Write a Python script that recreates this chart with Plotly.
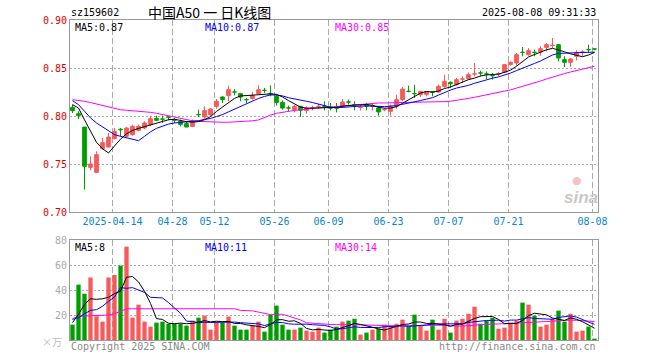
import plotly.graph_objects as go

# ---------------- data ----------------
dates = [
    "2025-04-02", "2025-04-03", "2025-04-07", "2025-04-08", "2025-04-09", "2025-04-10", "2025-04-11",
    "2025-04-14", "2025-04-15", "2025-04-16", "2025-04-17", "2025-04-18",
    "2025-04-21", "2025-04-22", "2025-04-23", "2025-04-24", "2025-04-25",
    "2025-04-28", "2025-04-29", "2025-04-30",
    "2025-05-06", "2025-05-07", "2025-05-08", "2025-05-09",
    "2025-05-12", "2025-05-13", "2025-05-14", "2025-05-15", "2025-05-16",
    "2025-05-19", "2025-05-20", "2025-05-21", "2025-05-22", "2025-05-23",
    "2025-05-26", "2025-05-27", "2025-05-28", "2025-05-29", "2025-05-30",
    "2025-06-03", "2025-06-04", "2025-06-05", "2025-06-06",
    "2025-06-09", "2025-06-10", "2025-06-11", "2025-06-12", "2025-06-13",
    "2025-06-16", "2025-06-17", "2025-06-18", "2025-06-19", "2025-06-20",
    "2025-06-23", "2025-06-24", "2025-06-25", "2025-06-26", "2025-06-27",
    "2025-06-30", "2025-07-01", "2025-07-02", "2025-07-03", "2025-07-04",
    "2025-07-07", "2025-07-08", "2025-07-09", "2025-07-10", "2025-07-11",
    "2025-07-14", "2025-07-15", "2025-07-16", "2025-07-17", "2025-07-18",
    "2025-07-21", "2025-07-22", "2025-07-23", "2025-07-24", "2025-07-25",
    "2025-07-28", "2025-07-29", "2025-07-30", "2025-07-31", "2025-08-01",
    "2025-08-04", "2025-08-05", "2025-08-06", "2025-08-07", "2025-08-08",
]

open_ = [
    0.8090, 0.8024, 0.7885, 0.7465, 0.7413, 0.7660, 0.7677, 0.7764, 0.7862, 0.7788,
    0.7806, 0.7851, 0.7875, 0.7910, 0.7976, 0.7970, 0.7990, 0.7962, 0.7944, 0.7920,
    0.7892, 0.8016, 0.7990, 0.8014, 0.8101, 0.8198, 0.8212, 0.8252, 0.8233, 0.8172,
    0.8181, 0.8233, 0.8269, 0.8235, 0.8205, 0.8142, 0.8085, 0.8066, 0.8101, 0.8056,
    0.8081, 0.8099, 0.8103, 0.8085, 0.8085, 0.8101, 0.8148, 0.8120, 0.8088, 0.8118,
    0.8099, 0.8083, 0.8064, 0.8049, 0.8101, 0.8170, 0.8259, 0.8235, 0.8222, 0.8225,
    0.8252, 0.8250, 0.8309, 0.8351, 0.8326, 0.8383, 0.8389, 0.8436, 0.8450, 0.8440,
    0.8422, 0.8436, 0.8455, 0.8535, 0.8552, 0.8665, 0.8639, 0.8665, 0.8667, 0.8715,
    0.8734, 0.8743, 0.8587, 0.8559, 0.8622, 0.8665, 0.8693, 0.8700,
]
high = [
    0.8118, 0.8049, 0.7885, 0.7580, 0.7632, 0.7771, 0.7823, 0.7875, 0.7875, 0.7885,
    0.7910, 0.7910, 0.7944, 0.8003, 0.8003, 0.8003, 0.8003, 0.7979, 0.7962, 0.7944,
    0.7962, 0.8066, 0.8101, 0.8083, 0.8177, 0.8205, 0.8316, 0.8281, 0.8240, 0.8188,
    0.8250, 0.8319, 0.8292, 0.8319, 0.8222, 0.8163, 0.8108, 0.8118, 0.8101, 0.8101,
    0.8108, 0.8125, 0.8153, 0.8135, 0.8135, 0.8177, 0.8170, 0.8153, 0.8118, 0.8135,
    0.8125, 0.8101, 0.8083, 0.8118, 0.8222, 0.8302, 0.8316, 0.8326, 0.8257, 0.8260,
    0.8257, 0.8326, 0.8431, 0.8361, 0.8396, 0.8413, 0.8455, 0.8552, 0.8472, 0.8465,
    0.8448, 0.8455, 0.8542, 0.8569, 0.8656, 0.8719, 0.8708, 0.8691, 0.8726, 0.8760,
    0.8813, 0.8743, 0.8622, 0.8604, 0.8684, 0.8684, 0.8743, 0.8708,
]
low = [
    0.8031, 0.7969, 0.7233, 0.7434, 0.7406, 0.7649, 0.7671, 0.7757, 0.7788, 0.7771,
    0.7795, 0.7840, 0.7860, 0.7899, 0.7948, 0.7927, 0.7955, 0.7927, 0.7892, 0.7885,
    0.7885, 0.7990, 0.7972, 0.8003, 0.8076, 0.8135, 0.8153, 0.8215, 0.8153, 0.8135,
    0.8170, 0.8222, 0.8240, 0.8205, 0.8108, 0.8066, 0.8049, 0.8038, 0.7990, 0.8024,
    0.8059, 0.8073, 0.8059, 0.8059, 0.8038, 0.8083, 0.8118, 0.8059, 0.8059, 0.8059,
    0.8059, 0.8003, 0.8049, 0.8003, 0.8076, 0.8153, 0.8247, 0.8188, 0.8198, 0.8205,
    0.8205, 0.8240, 0.8292, 0.8292, 0.8316, 0.8344, 0.8378, 0.8413, 0.8413, 0.8385,
    0.8378, 0.8413, 0.8448, 0.8524, 0.8524, 0.8622, 0.8628, 0.8622, 0.8628, 0.8674,
    0.8708, 0.8569, 0.8510, 0.8510, 0.8580, 0.8622, 0.8656, 0.8684,
]
close = [
    0.8056, 0.8003, 0.7476, 0.7500, 0.7597, 0.7722, 0.7781, 0.7840, 0.7855, 0.7875,
    0.7892, 0.7892, 0.7927, 0.7972, 0.7955, 0.7966, 0.7986, 0.7955, 0.7910, 0.7885,
    0.7944, 0.8012, 0.8056, 0.8073, 0.8153, 0.8170, 0.8274, 0.8248, 0.8198, 0.8168,
    0.8215, 0.8274, 0.8265, 0.8229, 0.8142, 0.8083, 0.8081, 0.8101, 0.8059, 0.8083,
    0.8085, 0.8103, 0.8099, 0.8081, 0.8081, 0.8146, 0.8144, 0.8116, 0.8092, 0.8101,
    0.8103, 0.8042, 0.8068, 0.8101, 0.8170, 0.8281, 0.8255, 0.8231, 0.8257, 0.8255,
    0.8248, 0.8309, 0.8361, 0.8337, 0.8378, 0.8387, 0.8431, 0.8440, 0.8446, 0.8436,
    0.8418, 0.8440, 0.8535, 0.8559, 0.8639, 0.8661, 0.8681, 0.8661, 0.8701, 0.8743,
    0.8738, 0.8604, 0.8559, 0.8594, 0.8663, 0.8669, 0.8689, 0.8696,
]
volume = [
    12.3, 44.3, 37.0, 50.0, 19.0, 14.7, 50.0, 52.0, 59.5, 74.7,
    17.9, 28.3, 14.7, 10.7, 13.9, 14.7, 13.0, 13.0, 13.0, 11.5,
    15.5, 17.9, 19.5, 8.3, 13.9, 13.9, 18.7, 11.5, 8.3, 8.3,
    11.5, 14.7, 6.7, 20.3, 27.5, 12.3, 8.3, 8.3, 9.9, 7.5,
    6.7, 9.9, 5.9, 8.3, 10.7, 14.7, 15.5, 17.0, 4.3, 5.9,
    8.3, 9.0, 12.3, 11.5, 13.0, 16.3, 10.7, 20.3, 11.5, 7.5,
    16.3, 8.3, 17.0, 5.9, 15.5, 17.0, 21.0, 26.7, 13.0, 15.5,
    17.9, 9.0, 9.9, 13.9, 15.5, 29.9, 28.3, 19.5, 10.7, 12.3,
    17.0, 23.5, 14.7, 21.0, 6.7, 7.5, 10.7, 1.1,
]

# moving-average values before the window (need earlier data)
ma5_head = [0.8118, 0.8083, 0.7960, 0.7840]
ma10_head = [0.8160, 0.8118, 0.8050, 0.7980, 0.7927, 0.7886, 0.7840, 0.7806, 0.7788]
ma30_head = [0.8170, 0.8163, 0.8153, 0.8140, 0.8125, 0.8108, 0.8090, 0.8073, 0.8065, 0.8060,
             0.8056, 0.8052, 0.8045, 0.8038, 0.8028, 0.8014, 0.8003, 0.7990, 0.7976, 0.7962,
             0.7950, 0.7944, 0.7940, 0.7937, 0.7935, 0.7935, 0.7935, 0.7937, 0.7940]
vma5_head = [13.9, 20.5, 28.5, 33.0]
vma10_head = [16.5, 17.9, 21.0, 23.7, 24.3, 27.0, 31.0, 34.4, 41.9]
vma30_head = [17.0, 19.0, 19.2, 19.3, 19.4, 19.6, 20.0, 21.0, 23.0, 25.0,
              25.0, 25.0, 25.0, 25.0, 25.0, 25.0, 25.0, 25.0, 25.0, 25.0,
              25.0, 25.0, 25.0, 25.0, 25.0, 25.0, 25.0, 25.0, 23.7]

price_legend = [0.87, 0.87, 0.85]
vol_legend = [8, 11, 14]

tick_dates = ["2025-04-14", "2025-04-28", "2025-05-12", "2025-05-26", "2025-06-09",
              "2025-06-23", "2025-07-07", "2025-07-21", "2025-08-08"]
tick_text = ["2025-04-14", "04-28", "05-12", "05-26", "06-09", "06-23", "07-07", "07-21", "08-08"]
price_ticks = [0.70, 0.75, 0.80, 0.85, 0.90]
vol_ticks = [20, 40, 60, 80]

# ---------------- helpers ----------------
def moving(vals, n, head):
    out = list(head)
    for i in range(len(head), len(vals)):
        w = vals[i - n + 1:i + 1]
        out.append(sum(w) / n)
    return out

N = len(dates)
idx = list(range(N))
ma5 = moving(close, 5, ma5_head)
ma10 = moving(close, 10, ma10_head)
ma30 = moving(close, 30, ma30_head)
vma5 = moving(volume, 5, vma5_head)
vma10 = moving(volume, 10, vma10_head)
vma30 = moving(volume, 30, vma30_head)

RED = "#f65a5a"
GREEN = "#009f00"
MONO = "DejaVu Sans Mono"

W, H = 660, 360
PL, PR = 70, 598          # plot left/right in window pixels
ML = PL
MR = W - PR
PW = PR - PL


def px(x):
    return (x - PL) / PW


def py(y):
    return 1 - y / H


up = [i for i in idx if close[i] >= open_[i]]
dn = [i for i in idx if close[i] < open_[i]]

fig = go.Figure()


def wick_xy(ids):
    xs, ys = [], []
    for i in ids:
        xs += [i, i, None]
        ys += [low[i], high[i], None]
    return xs, ys


for ids, col in ((up, RED), (dn, GREEN)):
    wx, wy = wick_xy(ids)
    fig.add_trace(go.Scatter(x=wx, y=wy, mode="lines", line=dict(color=col, width=1),
                             hoverinfo="skip", xaxis="x", yaxis="y"))
    fig.add_trace(go.Bar(
        x=ids,
        y=[max(abs(close[i] - open_[i]), 0.0002) for i in ids],
        base=[min(close[i], open_[i]) for i in ids],
        width=0.62, marker=dict(color=col, line=dict(color=col, width=1)),
        xaxis="x", yaxis="y"))

for vals, col in ((ma30, "#ff00ff"), (ma10, "#0000ff"), (ma5, "#000000")):
    fig.add_trace(go.Scatter(x=idx, y=vals, mode="lines", line=dict(color=col, width=1),
                             xaxis="x", yaxis="y"))

# volume
vcol = [RED if close[i] >= open_[i] else GREEN for i in idx]
fig.add_trace(go.Bar(x=idx, y=volume, width=0.72, marker=dict(color=vcol, line=dict(width=0)),
                     xaxis="x2", yaxis="y2"))
for vals, col in ((vma30, "#ff00ff"), (vma10, "#0000ff"), (vma5, "#000000")):
    fig.add_trace(go.Scatter(x=idx, y=vals, mode="lines", line=dict(color=col, width=1),
                             xaxis="x2", yaxis="y2"))

tickvals = [dates.index(d) - 0.33 for d in tick_dates]
xr = [-2.5 / 6, PW / 6 - 2.5 / 6]

common_x = dict(range=xr, showline=True, mirror=True, linecolor="#999999", linewidth=1,
                showgrid=True, gridcolor="#aaaaaa", griddash="6px,3px", gridwidth=1,
                tickvals=tickvals, zeroline=False, ticks="", fixedrange=True, automargin=False)

fig.update_layout(
    width=W, height=H, margin=dict(l=ML, r=MR, t=0, b=0, autoexpand=False),
    paper_bgcolor="white", plot_bgcolor="white", showlegend=False, barmode="overlay",
    hovermode=False,
    xaxis=dict(**common_x, domain=[0, 1], anchor="y", ticktext=tick_text,
               tickfont=dict(family=MONO, size=10, color="#0a84d0")),
    xaxis2=dict(**common_x, domain=[0, 1], anchor="y2", showticklabels=False),
    yaxis=dict(domain=[py(212), py(20)], range=[0.70, 0.90], tickvals=price_ticks,
               ticktext=["%.2f" % v for v in price_ticks],
               tickfont=dict(family=MONO, size=10, color="#e00000"),
               showline=True, mirror=True, linecolor="#999999", linewidth=1, automargin=False,
               showgrid=True, gridcolor="#aaaaaa", griddash="2px,2px", zeroline=False, ticks=""),
    yaxis2=dict(domain=[py(340), py(240)], range=[0, 80], tickvals=vol_ticks,
                ticktext=[str(v) for v in vol_ticks],
                tickfont=dict(family=MONO, size=10, color="#aaaaaa"),
                showline=True, mirror=True, linecolor="#999999", linewidth=1, automargin=False,
                showgrid=True, gridcolor="#aaaaaa", griddash="2px,2px", zeroline=False, ticks=""),
)

anns = []


def add(text, x, y, color="#000000", size=10, anchor="left", family=MONO, height=None):
    a = dict(text=text, x=px(x), y=py(y), xref="paper", yref="paper",
             xanchor=anchor, yanchor="middle", showarrow=False,
             font=dict(family=family, size=size, color=color))
    if height:
        a["height"] = height
    anns.append(a)


add("sz159602", 69, 13)
add("中国A50 一 日K线图", 209, 11.5, size=14, anchor="center", family="Noto Sans CJK SC", height=19)
add("2025-08-08 09:31:33", 598, 13, anchor="right")
add("MA5:%.2f" % price_legend[0], 73, 27, height=12)
add("MA10:%.2f" % price_legend[1], 203, 27, color="#0000ff", height=12)
add("MA30:%.2f" % price_legend[2], 333, 27, color="#ff00ff", height=12)
add("MA5:%d" % vol_legend[0], 73, 247)
add("MA10:%d" % vol_legend[1], 203, 247, color="#0000ff")
add("MA30:%d" % vol_legend[2], 333, 247, color="#ff00ff")
add("×万", 64, 341, color="#bbbbbb", anchor="right", family="Noto Sans CJK SC", height=12)
add("Copyright 2025 SINA.COM", 69, 346, color="#888888")
add("http://finance.sina.com.cn", 598, 346, color="#888888", anchor="right")
add("<b><i>sina</i></b>", 581, 197, color="#c8c8c8", size=17, anchor="center", family="Arial")
add("●", 577, 180, color="#f4c4c4", size=11, anchor="center", family="DejaVu Sans")
fig.update_layout(annotations=anns)

fig.write_html("out.html",
               config={"displayModeBar": False, "staticPlot": True},
               post_script="document.body.style.margin='0px';document.body.style.overflow='hidden';")
